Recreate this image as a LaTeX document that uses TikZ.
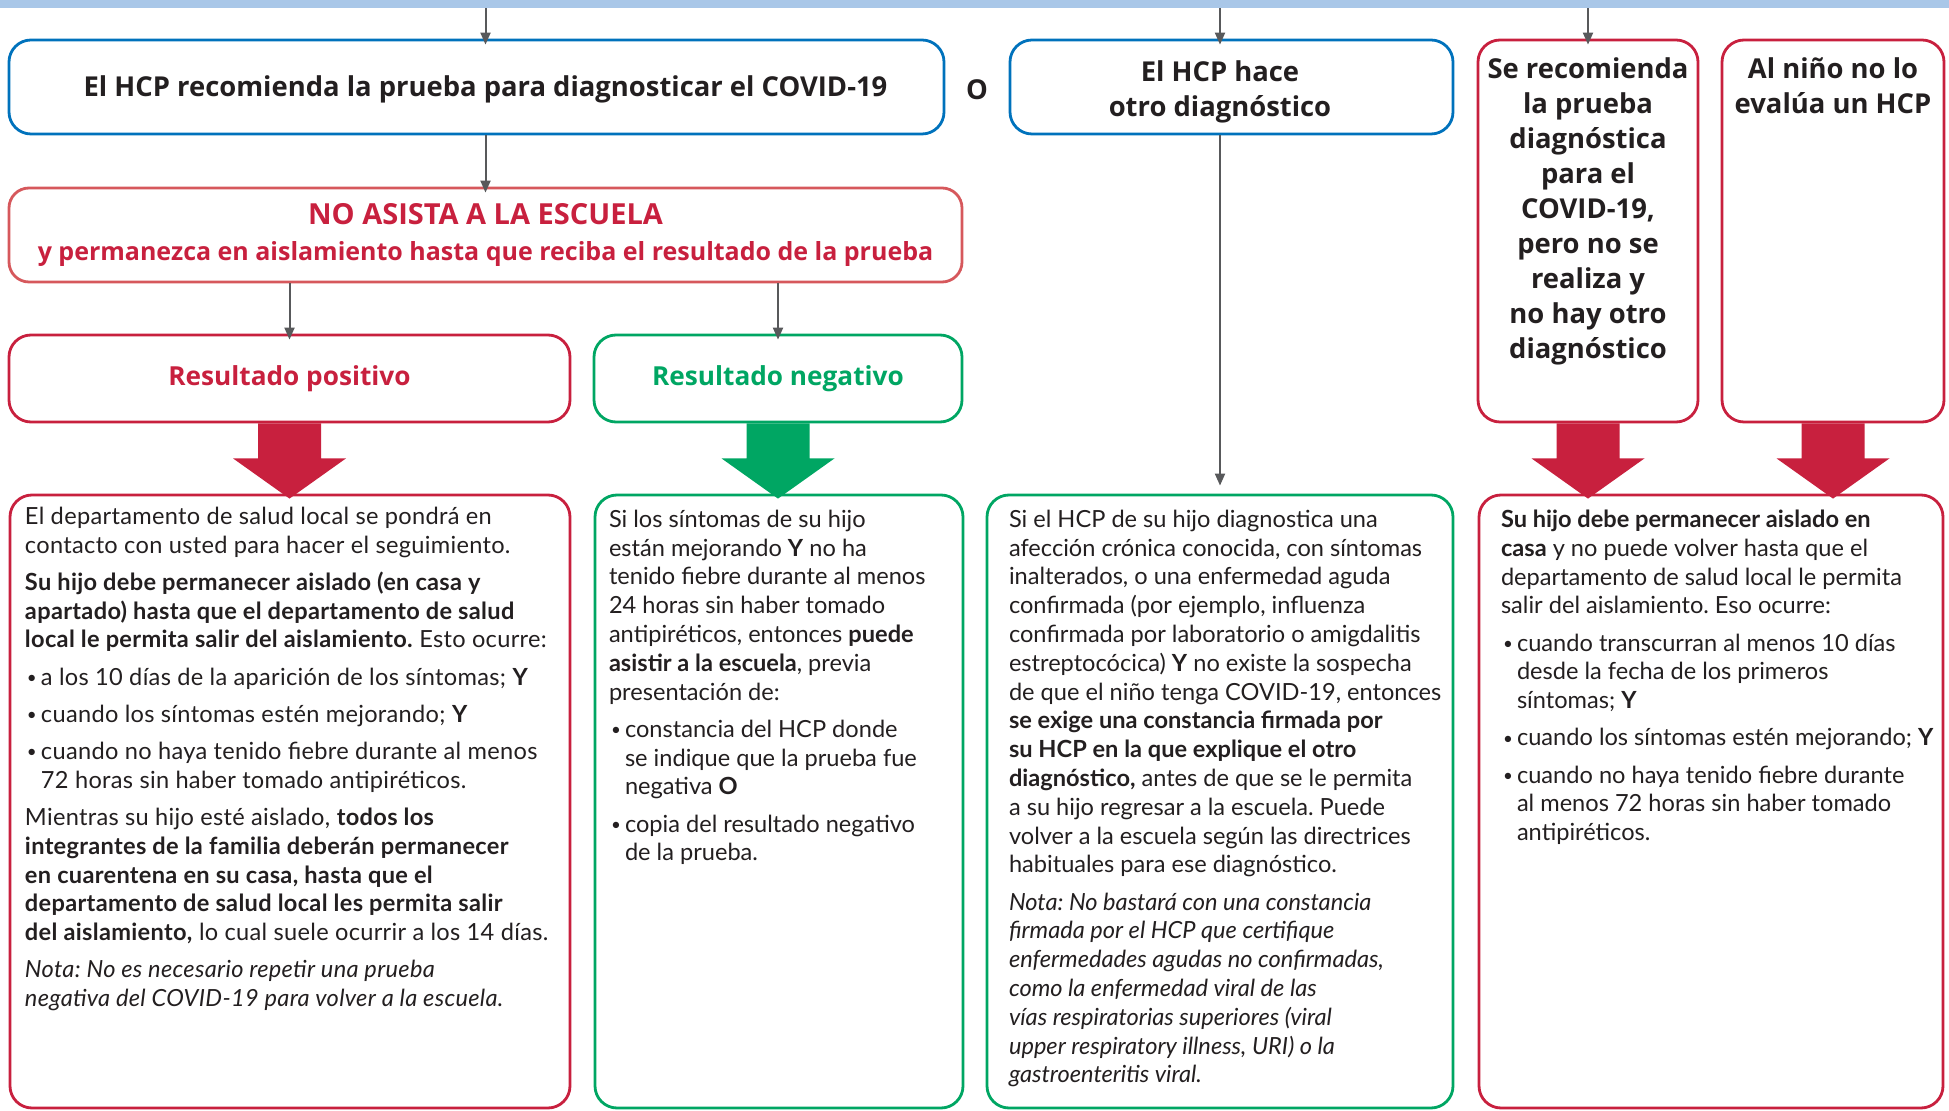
\documentclass[tikz,border=0pt]{standalone}
\usepackage{fontspec}
\setmainfont{Lato}
\newfontfamily\titlefont{Open Sans}
\usetikzlibrary{positioning,calc,arrows.meta}
\definecolor{barblue}{RGB}{169,199,232}
\definecolor{hcpblue}{RGB}{0,114,188}
\definecolor{alertred}{RGB}{200,32,62}
\definecolor{softred}{RGB}{214,88,92}
\definecolor{okgreen}{RGB}{0,166,99}
\definecolor{linegray}{RGB}{88,89,91}
\definecolor{inkgray}{RGB}{35,31,32}
\newcommand{\pargap}{\\[4.2pt]}
\newcommand{\bul}{\makebox[8pt][l]{\hspace{1pt}\raisebox{0.9pt}{\fontsize{8.5}{8.5}\selectfont•}}}
\newcommand{\bulind}{\hspace*{8pt}}
\frenchspacing

\begin{document}
\begin{tikzpicture}[x=0.5pt, y=-0.5pt,
    roundbox/.style={rectangle, rounded corners=11pt, line width=1.4pt, fill=white,
                     inner sep=0pt, align=center, font=\titlefont\fontsize{13.1}{17.6}\selectfont\bfseries},
    bluebox/.style={roundbox, draw=hcpblue, text=inkgray},
    redbox/.style={roundbox, draw=alertred, text=alertred},
    greenbox/.style={roundbox, draw=okgreen, text=okgreen},
    infotext/.style={align=left, inner sep=0pt, anchor=north west, text=inkgray,
                     font=\fontsize{11.8}{14.4}\selectfont},
    toptext/.style={align=center, inner sep=0pt, text=inkgray,
                    font=\titlefont\fontsize{13.7}{17.5}\selectfont\bfseries},
    thinarrow/.style={-{Triangle[length=6pt,width=5pt]}, line width=1pt, color=linegray},
]
\useasboundingbox (0,0) rectangle (1949,1111);

% Top bar
\node[fill=barblue, inner sep=0pt, minimum width=974.5pt, minimum height=4pt] (topbar) at (974.5,4) {};

% First row
\node[bluebox, minimum width=467.5pt, minimum height=47pt] (hcp1) at (476.5,87) {};
\node[bluebox, minimum width=221.5pt, minimum height=47pt] (hcp2) at (1231.5,87) {};
\node[redbox, minimum width=110pt, minimum height=191pt] (norec) at (1588,231) {};
\node[redbox, minimum width=111pt, minimum height=191pt] (noeval) at (1833,231) {};
\node[text=inkgray, font=\titlefont\fontsize{13.7}{15}\selectfont\bfseries] (orlabel) at (977,90) {O};

% Stay home box
\node[roundbox, draw=softred, text=alertred, rounded corners=10pt, minimum width=476.5pt, minimum height=47pt] (noasista) at (485.5,235)
    {{\fontsize{14.5}{17.6}\selectfont NO ASISTA A LA ESCUELA}\\{\fontsize{12.5}{17.6}\selectfont y permanezca en aislamiento hasta que reciba el resultado de la prueba}};

% Results
\node[redbox, minimum width=280.5pt, minimum height=43.5pt] (pos) at (289.5,378.5) {Resultado positivo};
\node[greenbox, minimum width=184pt, minimum height=43.5pt] (neg) at (778,378.5) {Resultado negativo};

% Info boxes
\node[redbox, minimum width=280pt, minimum height=306.5pt] (posinfo) at (290,801.5) {};
\node[greenbox, minimum width=184pt, minimum height=306.5pt] (neginfo) at (779,801.5) {};
\node[greenbox, minimum width=233pt, minimum height=306.5pt] (otherinfo) at (1220,801.5) {};
\node[redbox, minimum width=232pt, minimum height=306.5pt] (rightinfo) at (1711,801.5) {};

% Titles
\node[toptext] (hcp1text) at ($(hcp1.center -| noasista.north)+(0,2)$) {El HCP recomienda la prueba para diagnosticar el COVID-19};
\node[toptext] (hcp2text) at ($(hcp2.center -| otherinfo.north)+(0,5)$) {El HCP hace\\otro diagnóstico};
\node[toptext, anchor=north] (norectext) at ($(norec.north)+(0,19)$)
    {Se recomienda\\la prueba\\diagnóstica\\para el\\COVID-19,\\pero no se\\realiza y\\no hay otro\\diagnóstico};
\node[toptext, anchor=north] (noevaltext) at ($(noeval.north)+(0,19)$) {Al niño no lo\\evalúa un HCP};

% Thin connectors
\draw[thinarrow, shorten >=-3pt] (topbar.south -| noasista.north) -- (hcp1.north -| noasista.north);
\draw[thinarrow, shorten >=-3pt] (topbar.south -| otherinfo.north) -- (hcp2.north -| otherinfo.north);
\draw[thinarrow, shorten >=-3pt] (topbar.south -| norec.north) -- (norec.north);
\draw[thinarrow, shorten >=-3pt] (hcp1.south -| noasista.north) -- (noasista.north);
\draw[thinarrow, shorten >=-3pt] (noasista.south -| pos.north) -- (pos.north);
\draw[thinarrow, shorten >=-3pt] (noasista.south -| neg.north) -- (neg.north);
\draw[thinarrow, shorten >=4pt] (hcp2.south -| otherinfo.north) -- (otherinfo.north);

% Block arrows
\foreach \src/\dst/\col in {pos/posinfo/alertred, neg/neginfo/okgreen, norec/rightinfo/alertred, noeval/rightinfo/alertred} {
    \fill[\col] ($(\src.south)+(-31.5,0)$) -- ($(\src.south)+(-31.5,35)$) -- ($(\src.south)+(-56.5,35)$)
        -- ($(\src.south |- \dst.north)+(0,5)$) -- ($(\src.south)+(56.5,35)$) -- ($(\src.south)+(31.5,35)$)
        -- ($(\src.south)+(31.5,0)$) -- cycle;
}

% Info texts
\node[infotext, font={\fontsize{11.8}{14.4}\selectfont\addfontfeatures{LetterSpace=1.3}}] (postext)
    at ($(posinfo.north west)+(16,13)$) {
    El departamento de salud local se pondrá en\\
    contacto con usted para hacer el seguimiento.\pargap
    \textbf{Su hijo debe permanecer aislado (en casa y}\\
    \textbf{apartado) hasta que el departamento de salud}\\
    \textbf{local le permita salir del aislamiento.} Esto ocurre:\pargap
    \bul a los 10 días de la aparición de los síntomas; \textbf{Y}\pargap
    \bul cuando los síntomas estén mejorando; \textbf{Y}\pargap
    \bul cuando no haya tenido fiebre durante al menos\\
    \bulind 72 horas sin haber tomado antipiréticos.\pargap
    Mientras su hijo esté aislado, \textbf{todos los}\\
    \textbf{integrantes de la familia deberán permanecer}\\
    \textbf{en cuarentena en su casa, hasta que el}\\
    \textbf{departamento de salud local les permita salir}\\
    \textbf{del aislamiento,} lo cual suele ocurrir a los 14 días.\pargap
    \textit{Nota: No es necesario repetir una prueba}\\
    \textit{negativa del COVID-19 para volver a la escuela.}};

\node[infotext] (negtext) at ($(neginfo.north west)+(15,16)$) {
    Si los síntomas de su hijo\\
    están mejorando \textbf{Y} no ha\\
    tenido fiebre durante al menos\\
    24 horas sin haber tomado\\
    antipiréticos, entonces \textbf{puede}\\
    \textbf{asistir a la escuela}, previa\\
    presentación de:\pargap
    \bul constancia del HCP donde\\
    \bulind se indique que la prueba fue\\
    \bulind negativa \textbf{O}\pargap
    \bul copia del resultado negativo\\
    \bulind de la prueba.};

\node[infotext] (othertext) at ($(otherinfo.north west)+(23,16)$) {
    Si el HCP de su hijo diagnostica una\\
    afección crónica conocida, con síntomas\\
    inalterados, o una enfermedad aguda\\
    confirmada (por ejemplo, influenza\\
    confirmada por laboratorio o amigdalitis\\
    estreptocócica) \textbf{Y} no existe la sospecha\\
    de que el niño tenga COVID-19, entonces\\
    \textbf{se exige una constancia firmada por}\\
    \textbf{su HCP en la que explique el otro}\\
    \textbf{diagnóstico,} antes de que se le permita\\
    a su hijo regresar a la escuela. Puede\\
    volver a la escuela según las directrices\\
    habituales para ese diagnóstico.\pargap
    \textit{Nota: No bastará con una constancia}\\
    \textit{firmada por el HCP que certifique}\\
    \textit{enfermedades agudas no confirmadas,}\\
    \textit{como la enfermedad viral de las}\\
    \textit{vías respiratorias superiores (viral}\\
    \textit{upper respiratory illness, URI) o la}\\
    \textit{gastroenteritis viral.}};

\node[infotext] (righttext) at ($(rightinfo.north west)+(23,16)$) {
    \textbf{Su hijo debe permanecer aislado en}\\
    \textbf{casa} y no puede volver hasta que el\\
    departamento de salud local le permita\\
    salir del aislamiento. Eso ocurre:\pargap
    \bul cuando transcurran al menos 10 días\\
    \bulind desde la fecha de los primeros\\
    \bulind síntomas; \textbf{Y}\pargap
    \bul cuando los síntomas estén mejorando; \textbf{Y}\pargap
    \bul cuando no haya tenido fiebre durante\\
    \bulind al menos 72 horas sin haber tomado\\
    \bulind antipiréticos.};

\end{tikzpicture}
\end{document}
